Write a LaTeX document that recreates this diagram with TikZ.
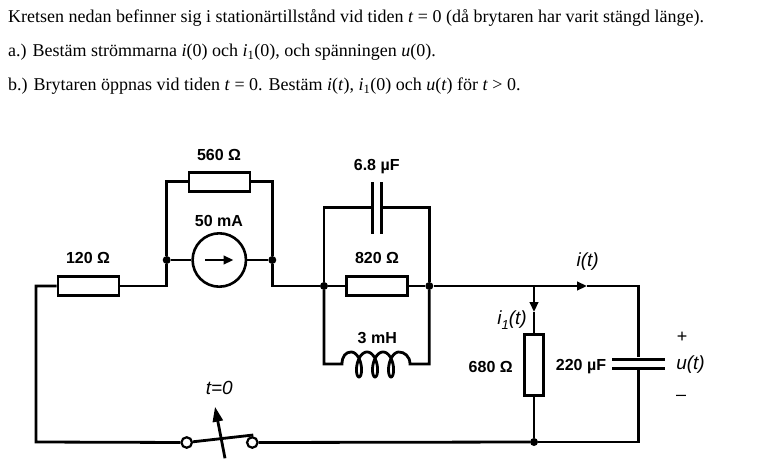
\documentclass[tikz,border=0pt]{standalone}
\usepackage{fontspec}
\setmainfont{Liberation Serif}
\newfontfamily\labelfont{Liberation Sans}
\usetikzlibrary{arrows.meta}
\def\coil[#1](#2,#3){\draw[#1] plot[domain=0:1080, samples=180, smooth, variable=\t] ({#2+2.55*rad(\t)+6*sin(\t)}, {#3-12.5*cos(\t)});}

\tikzset{
  wire/.style={line width=2.8pt},
  resbox/.style={draw, fill=white, line width=2.7pt, minimum width=61pt, minimum height=19pt, inner sep=0pt},
  vresbox/.style={resbox, minimum width=19pt, minimum height=61pt},
  vplate/.style={fill=black, minimum width=3pt, minimum height=52pt, inner sep=0pt},
  hplate/.style={fill=black, minimum width=53pt, minimum height=3pt, inner sep=0pt},
  srcring/.style={circle, draw, line width=2.6pt, minimum size=53.4pt, inner sep=0pt},
  junc/.style={circle, fill=black, minimum size=8pt, inner sep=0pt},
  swpin/.style={circle, draw, fill=white, line width=2.2pt, minimum size=10.5pt, inner sep=0pt},
  question/.style={anchor=base west, inner sep=0pt, font=\fontsize{18}{21}\selectfont},
  val/.style={inner sep=0pt, font=\labelfont\bfseries\fontsize{16}{19}\selectfont},
  sym/.style={inner sep=0pt, font=\labelfont\itshape\fontsize{19}{22}\selectfont},
  sign/.style={inner sep=0pt, font=\labelfont\fontsize{18}{21}\selectfont},
  tip/.style={-{Triangle[length=10pt, width=8.5pt]}},
}

\begin{document}
\begin{tikzpicture}[x=1pt, y=-1pt]
			%%%%% START %%%%%
			\useasboundingbox (0,0) rectangle (757,476);
			
			\node[question] (q1) at (8,22.7) {Kretsen nedan befinner sig i stationärtillstånd vid tiden \textit{t} = 0 (då brytaren har varit stängd länge).};
			\node[question] (q2) at (8,56.7) {a.) Bestäm strömmarna \textit{i}(0) och \textit{i}\textsubscript{1}(0), och spänningen \textit{u}(0).};
			\node[question] (q3) at (8,91) {b.) Brytaren öppnas vid tiden \textit{t} = 0. Bestäm \textit{i}(\textit{t}), \textit{i}\textsubscript{1}(0) och \textit{u}(\textit{t}) för \textit{t} > 0.};
			
			% corners
			\coordinate (tl) at (36,286);
			\coordinate (bl) at (36,442);
			\coordinate (a1) at (166.7,286);
			\coordinate (a2) at (166.7,181.7);
			\coordinate (b1) at (272.3,286);
			\coordinate (b2) at (272.3,181.7);
			\coordinate (c2) at (324,207.7);
			\coordinate (c3) at (324,364);
			\coordinate (d2) at (429.3,207.7);
			\coordinate (d3) at (429.3,364);
			\coordinate (je) at (534,286);
			\coordinate (tr) at (638.5,286);
			\coordinate (br) at (638.5,442);
			\coordinate (coilL) at (342,364);
			\coordinate (coilR) at (410,364);
			\coordinate (itip) at (587,286);
			\coordinate (i1tip) at (534,312);
			\coordinate (srcL) at (205,260);
			\coordinate (srcR) at (233.5,260);
			\coordinate (bladeend) at (253.3,435);
			\coordinate (swtail) at (225,458.3);
			\coordinate (swtip) at (215,406.7);
			
			% components
			\node[resbox] (r120) at (88.5,286) {};
			\node[resbox] (r560) at (219.5,181.7) {};
			\node[resbox] (r820) at (377,286) {};
			\node[vresbox] (r680) at (534,364.7) {};
			\node[srcring] (src) at (219.3,260) {};
			\node[vplate] (c68a) at (372.3,207.7) {};
			\node[vplate] (c68b) at (381,207.7) {};
			\node[hplate] (c220a) at (638.5,359) {};
			\node[hplate] (c220b) at (638.5,368.3) {};
			\node[swpin] (sw1) at (186.7,442.5) {};
			\node[swpin] (sw2) at (252.3,442.5) {};
			
			\node[junc] (ja) at (166.7,260) {};
			\node[junc] (jb) at (272.3,260) {};
			\node[junc] (jc) at (324,286) {};
			\node[junc] (jd) at (429.3,286) {};
			\node[junc] (jf) at (534,442) {};
			
			% wires
			\draw[wire] (sw1) -- (bl) -- (tl) -- (r120.west);
			\draw[wire] (r120.east) -- (a1) -- (ja) -- (a2) -- (r560.west);
			\draw[wire] (r560.east) -- (b2) -- (jb) -- (b1) -- (jc);
			\draw[wire] (ja) -- (src.west);
			\draw[wire] (src.east) -- (jb);
			\draw[wire, tip] (srcL) -- (srcR);
			
			\draw[wire] (jc) -- (c2) -- (c68a);
			\draw[wire] (c68b) -- (d2) -- (jd);
			\draw[wire] (jc) -- (r820.west);
			\draw[wire] (r820.east) -- (jd);
			\draw[wire] (jc) -- (c3) -- (coilL) .. controls (342,356) and (346,352) .. (351,352);
			\coil[wire](351,364.5)
			\draw[wire] (399.1,352) .. controls (404,352) and (coilR|-0,356) .. (coilR) -- (d3) -- (jd);
			
			\draw[wire] (jd) -- (je);
			\draw[wire, tip] (je) -- (itip);
			\draw[wire] (itip) -- (tr) -- (c220a);
			\draw[wire] (c220b) -- (br) -- (jf);
			\draw[wire, tip] (je) -- (i1tip);
			\draw[wire] (i1tip) -- (r680.north);
			\draw[wire] (r680.south) -- (jf);
			\draw[wire] (jf) -- (sw2);
			
			\draw[wire] (sw1) -- (bladeend);
			\draw[wire, -{Triangle[length=15pt, width=10pt]}] (swtail) -- (swtip);
			
			% labels
			\node[val] (l120) at (88,258) {120 Ω};
			\node[val] (l560) at (219,155) {560 Ω};
			\node[val] (l50) at (219,220.7) {50 mA};
			\node[val] (l68) at (376.7,167) {6.8 µF};
			\node[val] (l820) at (377,258) {820 Ω};
			\node[val] (l3) at (377.3,337.7) {3 mH};
			\node[val] (l680) at (490.7,366.7) {680 Ω};
			\node[val] (l220) at (581,366.7) {220 µF};
			\node[sym] (li) at (587.7,262) {i(t)};
			\node[sym] (li1) at (512,320) {i\raisebox{-5pt}{\fontsize{13}{15}\selectfont 1}(t)};
			\node[sym] (lu) at (690.5,365) {u(t)};
			\node[sign] (lplus) at (682,337.5) {+};
			\node[sign] (lminus) at (681,398) {–};
			\node[sym] (lt0) at (219.3,388.3) {t=0};
			
			%%%%% END %%%%%
\end{tikzpicture}
\end{document}
